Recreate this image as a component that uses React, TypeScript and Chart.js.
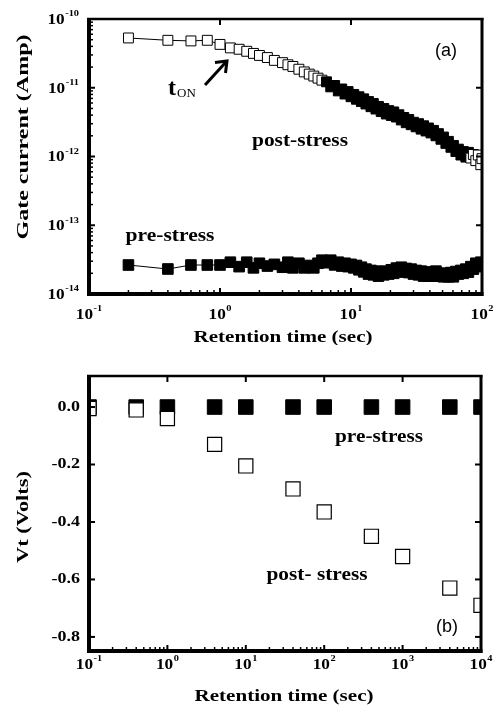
import React, { useEffect, useRef } from 'react';
import { Chart, registerables } from 'chart.js';
Chart.register(...registerables);

const SERIF = '"Liberation Serif", "Times New Roman", serif';
const SANS = '"Liberation Sans", Arial, sans-serif';

// ---------- Panel (a): gate current vs retention time ----------
const retentionTimesA = [
  0.2, 0.4, 0.6, 0.8, 1.0, 1.2, 1.4, 1.6, 1.8, 2.0,
  2.3, 2.6, 3.0, 3.3, 3.6, 4.0, 4.4, 4.8, 5.2, 5.6,
  6.0, 6.5, 7.0, 7.5, 8.0, 8.5, 9.0, 9.5, 10, 10.5,
  11, 11.5, 12, 12.5, 13, 13.6, 14.2, 14.8, 15.5, 16.2,
  17, 17.8, 18.6, 19.4, 20.3, 21.2, 22.2, 23.2, 24.2, 25.3,
  26.4, 27.6, 28.8, 30, 31.4, 32.8, 34.3, 35.8, 37.4, 39,
  40.8, 42.6, 44.5, 46.5, 48.6, 50.8, 53, 55.4, 57.9, 60.5,
  63.2, 66, 69, 72, 75.3, 78.7, 82.2, 85.9, 89.7, 93.7,
  97.9, 100,
];
const postStressCurrent = [
  5.3e-11, 4.9e-11, 4.8e-11, 4.9e-11, 4.27e-11, 3.8e-11, 3.63e-11, 3.39e-11, 3.16e-11, 2.95e-11,
  2.75e-11, 2.5e-11, 2.32e-11, 2.16e-11, 2.04e-11, 1.86e-11, 1.7e-11, 1.58e-11, 1.48e-11, 1.38e-11,
  1.29e-11, 1.22e-11, 1.03e-11, 1.08e-11, 9.0e-12, 9.6e-12, 8.1e-12, 8.8e-12, 7.4e-12, 8.0e-12,
  6.8e-12, 7.4e-12, 6.3e-12, 6.9e-12, 5.8e-12, 6.3e-12, 5.3e-12, 5.9e-12, 4.9e-12, 5.35e-12,
  4.5e-12, 5.0e-12, 4.15e-12, 4.65e-12, 3.95e-12, 4.45e-12, 3.75e-12, 4.05e-12, 3.4e-12, 3.7e-12,
  3.1e-12, 3.45e-12, 2.9e-12, 3.15e-12, 2.7e-12, 3.0e-12, 2.5e-12, 2.8e-12, 2.35e-12, 2.6e-12,
  2.2e-12, 2.4e-12, 2.0e-12, 2.15e-12, 1.78e-12, 1.92e-12, 1.55e-12, 1.66e-12, 1.36e-12, 1.45e-12,
  1.18e-12, 1.28e-12, 1.05e-12, 1.18e-12, 9.8e-13, 1.15e-12, 9.5e-13, 1.07e-12, 8.7e-13, 1.05e-12,
  7.6e-13, 9.3e-13,
];
const preStressCurrent = [
  2.64e-14, 2.31e-14, 2.64e-14, 2.64e-14, 2.64e-14,
  2.9e-14, 2.5e-14, 2.9e-14, 2.4e-14, 2.8e-14, 2.55e-14, 2.7e-14, 2.45e-14, 2.9e-14, 2.4e-14,
  2.8e-14, 2.4e-14, 2.6e-14, 2.4e-14, 2.8e-14,
  3.1e-14, 2.85e-14, 3.1e-14, 2.65e-14, 2.9e-14, 2.55e-14, 2.8e-14, 2.5e-14, 2.7e-14, 2.4e-14,
  2.6e-14, 2.25e-14, 2.45e-14, 2.1e-14, 2.3e-14, 1.95e-14, 2.2e-14, 1.9e-14, 2.15e-14, 1.82e-14,
  2.08e-14, 1.9e-14, 2.15e-14, 1.95e-14, 2.25e-14, 2.0e-14, 2.38e-14, 2.1e-14, 2.45e-14, 2.1e-14,
  2.35e-14, 2.05e-14, 2.3e-14, 1.95e-14, 2.2e-14, 1.9e-14, 2.15e-14, 1.82e-14, 2.08e-14, 1.82e-14,
  2.08e-14, 1.82e-14, 2.15e-14, 1.82e-14, 2.0e-14, 1.78e-14, 2.0e-14, 1.78e-14, 2.05e-14, 1.78e-14,
  2.12e-14, 1.95e-14, 2.2e-14, 2.0e-14, 2.3e-14, 2.08e-14, 2.5e-14, 2.3e-14, 2.8e-14, 2.55e-14,
  2.9e-14, 2.5e-14,
];
const xExponentsA = [-1, 0, 1, 2];
const yExponentsA = [-14, -13, -12, -11, -10];

// ---------- Panel (b): threshold voltage shift vs retention time ----------
const retentionTimesB = [0.1, 0.4, 1, 4, 10, 40, 100, 400, 1000, 4000, 10000];
const postStressVt = [-0.005, -0.01, -0.04, -0.13, -0.205, -0.285, -0.365, -0.45, -0.52, -0.63, -0.69];
const preStressVt = [0, 0, 0, 0, 0, 0, 0, 0, 0, 0, 0];
const xExponentsB = [-1, 0, 1, 2, 3, 4];
const yTicksB = [0, -0.2, -0.4, -0.6, -0.8];
const yTickLabelsB = ['0.0', '-0.2', '-0.4', '-0.6', '-0.8'];

// ---------- text helpers ----------
function drawScaled(ctx: CanvasRenderingContext2D, text: string, x: number, y: number, font: string, sx: number, align: 'left' | 'center' | 'right') {
  ctx.save();
  ctx.font = font;
  ctx.fillStyle = '#000';
  ctx.textBaseline = 'middle';
  ctx.textAlign = 'left';
  const w = ctx.measureText(text).width * sx;
  const left = align === 'center' ? x - w / 2 : align === 'right' ? x - w : x;
  ctx.translate(left, y);
  ctx.scale(sx, 1);
  ctx.fillText(text, 0, 0);
  ctx.restore();
}
function drawFit(ctx: CanvasRenderingContext2D, text: string, cx: number, cy: number, font: string, targetW: number, rotate = false) {
  ctx.save();
  ctx.font = font;
  ctx.fillStyle = '#000';
  ctx.textBaseline = 'middle';
  ctx.textAlign = 'left';
  const w = ctx.measureText(text).width;
  const sx = targetW / w;
  ctx.translate(cx, cy);
  if (rotate) ctx.rotate(-Math.PI / 2);
  ctx.translate(-targetW / 2, 0);
  ctx.scale(sx, 1);
  ctx.fillText(text, 0, 0);
  ctx.restore();
}
function drawPow(ctx: CanvasRenderingContext2D, exp: number, x: number, y: number, align: 'center' | 'right') {
  const sx = 1.15;
  const baseFont = `bold 15px ${SERIF}`;
  const expFont = `bold 9px ${SERIF}`;
  ctx.save();
  ctx.fillStyle = '#000';
  ctx.textBaseline = 'middle';
  ctx.textAlign = 'left';
  ctx.font = baseFont;
  const wb = ctx.measureText('10').width;
  ctx.font = expFont;
  const es = String(exp);
  const we = ctx.measureText(es).width;
  const total = (wb + we + 0.5) * sx;
  const left = align === 'center' ? x - total / 2 : x - total;
  ctx.translate(left, y);
  ctx.scale(sx, 1);
  ctx.font = baseFont;
  ctx.fillText('10', 0, 0);
  ctx.font = expFont;
  ctx.fillText(es, wb + 0.5, -6);
  ctx.restore();
}

function logMinors(fromExp: number, toExp: number) {
  const out: number[] = [];
  for (let n = fromExp; n < toExp; n++) for (let k = 2; k <= 9; k++) out.push(k * Math.pow(10, n));
  return out;
}

type Spec = {
  xMajors: number[]; xMinors: number[]; yMajors: number[]; yMinors: number[];
  topTicks: number[]; rightTicks: number[];
  xLabels: (ctx: CanvasRenderingContext2D, x: any) => void;
  yLabels: (ctx: CanvasRenderingContext2D, y: any) => void;
  extras: (ctx: CanvasRenderingContext2D, chart: any) => void;
};

function decor(spec: Spec) {
  return {
    id: 'decor',
    afterDraw(chart: any) {
      const ctx: CanvasRenderingContext2D = chart.ctx;
      const { left, right, top, bottom } = chart.chartArea;
      const xs = chart.scales.x;
      const ys = chart.scales.y;
      ctx.save();
      ctx.strokeStyle = '#000';
      ctx.lineCap = 'butt';
      const line = (x1: number, y1: number, x2: number, y2: number, w: number) => {
        ctx.lineWidth = w;
        ctx.beginPath();
        ctx.moveTo(x1, y1);
        ctx.lineTo(x2, y2);
        ctx.stroke();
      };
      spec.xMajors.forEach((v) => { const px = xs.getPixelForValue(v); line(px, bottom, px, bottom - 6, 2); });
      spec.xMinors.forEach((v) => { const px = xs.getPixelForValue(v); line(px, bottom, px, bottom - 4, 1.5); });
      spec.topTicks.forEach((v) => { const px = xs.getPixelForValue(v); line(px, top, px, top + 6, 2); });
      spec.yMajors.forEach((v) => { const py = ys.getPixelForValue(v); line(left, py, left + 6, py, 2); });
      spec.yMinors.forEach((v) => { const py = ys.getPixelForValue(v); line(left, py, left + 4, py, 1.5); });
      spec.rightTicks.forEach((v) => { const py = ys.getPixelForValue(v); line(right, py, right - 6, py, 2); });
      line(left - 2, top, right + 1.5, top, 2.5);
      line(right, top - 1, right, bottom + 2, 3);
      line(left, top - 1, left, bottom + 2, 4);
      line(left - 2, bottom, right + 1.5, bottom, 4);
      ctx.restore();
      spec.xLabels(ctx, xs);
      spec.yLabels(ctx, ys);
      spec.extras(ctx, chart);
    },
  };
}

function baseOptions(pad: any, xAxis: any, yAxis: any, xH: number, yW: number) {
  return {
    responsive: false,
    animation: false,
    events: [],
    layout: { padding: pad },
    plugins: { legend: { display: false }, tooltip: { enabled: false } },
    scales: {
      x: { ...xAxis, grid: { display: false }, border: { display: false }, ticks: { display: false }, afterFit: (s: any) => { s.height = xH; } },
      y: { ...yAxis, grid: { display: false }, border: { display: false }, ticks: { display: false }, afterFit: (s: any) => { s.width = yW; } },
    },
  };
}

function configA(): any {
  const post = retentionTimesA.map((t, i) => ({ x: t, y: postStressCurrent[i] }));
  const pre = retentionTimesA.map((t, i) => ({ x: t, y: preStressCurrent[i] }));
  const spec: Spec = {
    xMajors: xExponentsA.map((e) => Math.pow(10, e)),
    xMinors: logMinors(-1, 2),
    yMajors: yExponentsA.map((e) => Math.pow(10, e)),
    yMinors: logMinors(-14, -10),
    topTicks: [1, 10],
    rightTicks: [1e-13, 1e-12, 1e-11],
    xLabels: (ctx, xs) => xExponentsA.forEach((e) => drawPow(ctx, e, xs.getPixelForValue(Math.pow(10, e)), 315, 'center')),
    yLabels: (ctx, ys) => yExponentsA.forEach((e) => drawPow(ctx, e, 79, ys.getPixelForValue(Math.pow(10, e)) + 1, 'right')),
    extras: (ctx) => {
      drawFit(ctx, 'Retention time (sec)', 283, 338, `bold 17px ${SERIF}`, 179);
      drawFit(ctx, 'Gate current (Amp)', 24, 137, `bold 17px ${SERIF}`, 205, true);
      drawScaled(ctx, '(a)', 446, 51, `18px ${SANS}`, 1, 'center');
      drawFit(ctx, 'post-stress', 300, 141, `bold 18px ${SERIF}`, 96);
      drawFit(ctx, 'pre-stress', 170, 236, `bold 18px ${SERIF}`, 89);
      ctx.save();
      ctx.fillStyle = '#000';
      ctx.textBaseline = 'alphabetic';
      ctx.textAlign = 'left';
      ctx.font = `bold 24px ${SERIF}`;
      ctx.fillText('t', 168, 95);
      ctx.font = `13px ${SERIF}`;
      ctx.fillText('ON', 177, 97);
      ctx.strokeStyle = '#000';
      ctx.lineWidth = 3;
      ctx.beginPath();
      ctx.moveTo(205, 85);
      ctx.lineTo(226, 62);
      ctx.stroke();
      ctx.beginPath();
      ctx.moveTo(215, 62.5);
      ctx.lineTo(227, 61);
      ctx.lineTo(225.5, 73);
      ctx.stroke();
      ctx.restore();
    },
  };
  return {
    type: 'scatter',
    data: {
      datasets: [
        {
          label: 'post-stress', data: post, showLine: true, clip: 0,
          borderColor: '#000', borderWidth: 1, pointStyle: 'rect', pointRadius: 7,
          pointBorderWidth: 1, pointBorderColor: '#000',
          pointBackgroundColor: (c: any) => { const t = c.raw && c.raw.x; return t >= 6.5 && t <= 80 ? '#000' : '#fff'; },
        },
        {
          label: 'pre-stress', data: pre, showLine: true, clip: 0,
          borderColor: '#000', borderWidth: 1, pointStyle: 'rect', pointRadius: 7.5,
          pointBorderWidth: 1, pointBorderColor: '#000', pointBackgroundColor: '#000',
        },
      ],
    },
    options: baseOptions({ left: 0, top: 19, right: 11, bottom: 0 },
      { type: 'logarithmic', min: 0.1, max: 100 },
      { type: 'logarithmic', min: 1e-14, max: 1e-10 }, 51, 89),
    plugins: [decor(spec)],
  };
}

function configB(): any {
  const post = retentionTimesB.map((t, i) => ({ x: t, y: postStressVt[i] }));
  const pre = retentionTimesB.map((t, i) => ({ x: t, y: preStressVt[i] }));
  const spec: Spec = {
    xMajors: xExponentsB.map((e) => Math.pow(10, e)),
    xMinors: logMinors(-1, 4),
    yMajors: yTicksB,
    yMinors: [],
    topTicks: [1, 10, 100, 1000],
    rightTicks: [-0.2, -0.4, -0.6, -0.8],
    xLabels: (ctx, xs) => xExponentsB.forEach((e) => drawPow(ctx, e, xs.getPixelForValue(Math.pow(10, e)), 320, 'center')),
    yLabels: (ctx, ys) => yTicksB.forEach((v, i) => drawScaled(ctx, yTickLabelsB[i], 80, ys.getPixelForValue(v), `bold 15px ${SERIF}`, 1.2, 'right')),
    extras: (ctx) => {
      drawFit(ctx, 'Retention time (sec)', 284, 352, `bold 17px ${SERIF}`, 179);
      drawFit(ctx, 'Vt (Volts)', 24, 172, `bold 17px ${SERIF}`, 92, true);
      drawScaled(ctx, '(b)', 447, 282, `18px ${SANS}`, 1, 'center');
      drawFit(ctx, 'pre-stress', 379, 92, `bold 18px ${SERIF}`, 88);
      drawFit(ctx, 'post- stress', 317, 230, `bold 18px ${SERIF}`, 101);
    },
  };
  return {
    type: 'scatter',
    data: {
      datasets: [
        {
          label: 'post-stress', data: post, clip: 0,
          pointStyle: 'rect', pointRadius: 10, pointBorderWidth: 1.2,
          pointBorderColor: '#000', pointBackgroundColor: '#fff',
        },
        {
          label: 'pre-stress', data: pre, clip: 0,
          pointStyle: 'rect', pointRadius: 10.3, pointBorderWidth: 1,
          pointBorderColor: '#000', pointBackgroundColor: '#000',
        },
      ],
    },
    options: baseOptions({ left: 0, top: 31, right: 12, bottom: 0 },
      { type: 'logarithmic', min: 0.1, max: 10000 },
      { type: 'linear', min: -0.849, max: 0.108 }, 58, 89),
    plugins: [decor(spec)],
  };
}

export default function App() {
  const refA = useRef<HTMLCanvasElement>(null);
  const refB = useRef<HTMLCanvasElement>(null);
  useEffect(() => {
    const a = new Chart(refA.current as HTMLCanvasElement, configA());
    const b = new Chart(refB.current as HTMLCanvasElement, configB());
    return () => { a.destroy(); b.destroy(); };
  }, []);
  return (
    <div style={{ position: 'absolute', left: 0, top: 0, width: 493, height: 709, background: '#fff' }}>
      <canvas ref={refA} width={493} height={345} style={{ position: 'absolute', left: 0, top: 0, width: 493, height: 345 }} />
      <canvas ref={refB} width={493} height={364} style={{ position: 'absolute', left: 0, top: 345, width: 493, height: 364 }} />
    </div>
  );
}
